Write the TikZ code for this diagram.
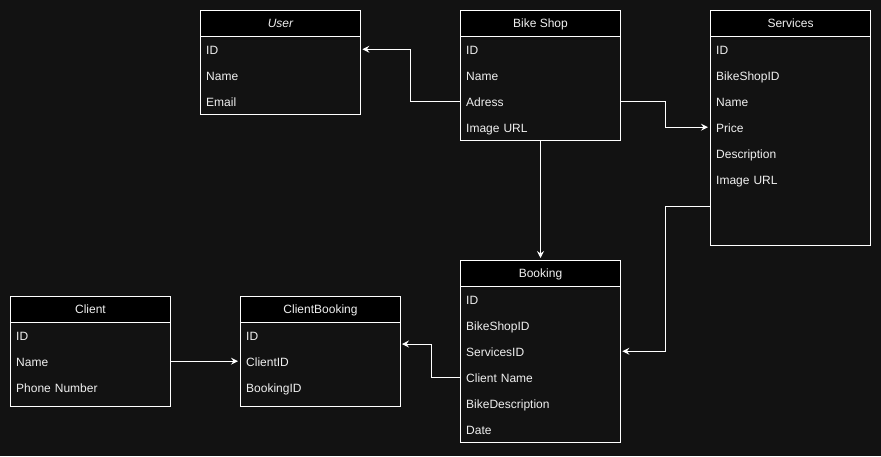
\documentclass[tikz,border=0pt]{standalone}
\usepackage{fontspec}
\setmainfont{Liberation Sans}
\usetikzlibrary{arrows.meta,calc}
\definecolor{bg}{RGB}{18,18,18}
\definecolor{txt}{RGB}{240,240,240}
\begin{document}
\begin{tikzpicture}[x=1pt,y=-1pt,
 tbl/.style={draw=white,line width=1pt,fill=bg,anchor=north west,inner sep=0pt,minimum width=160pt},
 hdr/.style={draw=white,line width=1pt,fill=black,anchor=north west,minimum width=160pt,minimum height=26pt,inner sep=0pt,text=txt,text height=9.5pt,text depth=1.5pt,font=\fontsize{12}{14}\selectfont},
 row/.style={anchor=north west,minimum width=160pt,minimum height=26pt,text width=148pt,inner xsep=6pt,inner ysep=0pt,align=left,text=txt,text height=10.5pt,text depth=0.5pt,font=\fontsize{12}{14}\selectfont},
 conn/.style={draw=white,line width=1pt,-{Stealth[length=7pt,width=7pt,inset=2.5pt]},shorten >=2pt}]
\fill[bg] (0,0) rectangle (881,456);
\useasboundingbox (0,0) rectangle (881,456);

% User
\node[tbl,minimum height=104pt] (usr) at (200,10) {};
\node[hdr] (usrH) at (200,10) {\itshape User};
\node[row] (usrID) at (200,36) {ID};
\node[row] (usrName) at (200,62) {Name};
\node[row] (usrEmail) at (200,88) {Email};

% Bike Shop
\node[tbl,minimum height=130pt] (bs) at (460,10) {};
\node[hdr] (bsH) at (460,10) {Bike Shop};
\node[row] (bsID) at (460,36) {ID};
\node[row] (bsName) at (460,62) {Name};
\node[row] (bsAdress) at (460,88) {Adress};
\node[row] (bsImg) at (460,114) {Image URL};

% Services
\node[tbl,minimum height=235pt] (srv) at (710,10) {};
\node[hdr] (srvH) at (710,10) {Services};
\node[row] (srvID) at (710,36) {ID};
\node[row] (srvBS) at (710,62) {BikeShopID};
\node[row] (srvName) at (710,88) {Name};
\node[row] (srvPrice) at (710,114) {Price};
\node[row] (srvDesc) at (710,140) {Description};
\node[row] (srvImg) at (710,166) {Image URL};
\coordinate (srvport) at (710,206);

% Booking
\node[tbl,minimum height=182pt] (bk) at (460,260) {};
\node[hdr] (bkH) at (460,260) {Booking};
\node[row] (bkID) at (460,286) {ID};
\node[row] (bkBS) at (460,312) {BikeShopID};
\node[row] (bkServ) at (460,338) {ServicesID};
\node[row] (bkClient) at (460,364) {Client Name};
\node[row] (bkDesc) at (460,390) {BikeDescription};
\node[row] (bkDate) at (460,416) {Date};

% Client
\node[tbl,minimum height=110pt] (cl) at (10,296) {};
\node[hdr] (clH) at (10,296) {Client};
\node[row] (clID) at (10,322) {ID};
\node[row] (clName) at (10,348) {Name};
\node[row] (clPhone) at (10,374) {Phone Number};

% ClientBooking
\node[tbl,minimum height=110pt] (cb) at (240,296) {};
\node[hdr] (cbH) at (240,296) {ClientBooking};
\node[row] (cbID) at (240,322) {ID};
\node[row] (cbClient) at (240,348) {ClientID};
\node[row] (cbBooking) at (240,374) {BookingID};
\coordinate (cbport) at (400,344);

% connectors
\draw[conn] (bsAdress.west) -- ++(-50,0) |- (usrID.east);
\draw[conn] (bsAdress.east) -- ++(45,0) |- (srvPrice.west);
\draw[conn] (bs.south) -- (bk.north);
\draw[conn] (srvport) -- ++(-45,0) |- (bkServ.east);
\draw[conn] (clName.east) -- (cbClient.west);
\draw[conn] (bkClient.west) -- ++(-29,0) |- (cbport);
\end{tikzpicture}
\end{document}
